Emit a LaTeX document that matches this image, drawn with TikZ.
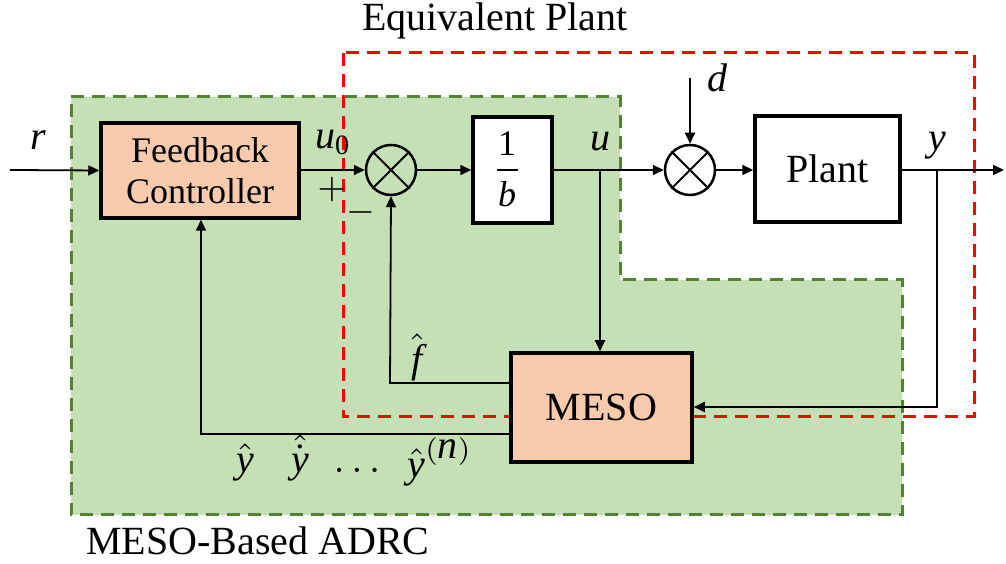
\documentclass[tikz,border=0pt]{standalone}
\usepackage{fontspec}
\setmainfont{Liberation Serif}
\usetikzlibrary{arrows.meta}
\definecolor{gfill}{HTML}{C5E0B4}
\definecolor{gline}{HTML}{548235}
\definecolor{ofill}{HTML}{F8CBAD}
\definecolor{rline}{HTML}{FF0000}
\newcommand\bigf{\rmfamily\fontsize{10}{11}\selectfont}
\newcommand\medf{\rmfamily\fontsize{9}{10.25}\selectfont}
\newcommand\itf{\rmfamily\fontsize{10}{11}\selectfont\itshape}
\begin{document}
\begin{tikzpicture}[x=0.25pt,y=-0.25pt,
  blk/.style={draw,line width=0.875pt,rectangle,inner sep=0pt,align=center},
  sumnode/.style={draw,line width=0.625pt,circle,minimum size=12.5pt,inner sep=0pt},
  conn/.style={line width=0.45pt,-{Triangle[length=2.75pt,width=2.5pt]}},
  lbl/.style={inner sep=0pt},
  dashedbox/.style={line width=0.75pt,dash pattern=on 3.25pt off 2pt}
]
\useasboundingbox (0,0) rectangle (1006,564);
% green region
\fill[gfill] (71,97) -- (620,97) -- (620,280) -- (902,280) -- (902,515) -- (71,515) -- cycle;
\draw[gline,dashedbox] (71,97) -- (620,97) -- (620,280) -- (902,280) -- (902,515) -- (71,515) -- cycle;
% red equivalent plant
\draw[rline,dashedbox] (343,53) rectangle (974,417);
% titles
\node[lbl] (eqt) at (495,21) {\bigf Equivalent Plant};
\node[lbl] (adrct) at (258,541) {\bigf MESO-Based ADRC};
% blocks
\node[blk,fill=ofill,minimum width=49.5pt,minimum height=23.75pt,font=\medf] (fc) at (200,170.5) {Feedback\\Controller};
\node[sumnode] (s1) at (391,170) {};
\draw[line width=0.45pt] (s1.north west) -- (s1.south east) (s1.north east) -- (s1.south west);
\node[blk,fill=white,minimum width=19.75pt,minimum height=26.5pt] (gb) at (512.5,170) {};
\node[lbl] (one) at (507,144) {\medf 1};
\node[lbl] (bden) at (507,194) {\medf\itshape b};
\coordinate (barl) at (497,170);
\coordinate (barr) at (518,170);
\draw[line width=0.5pt] (barl) -- (barr);
\node[sumnode] (s2) at (690,170) {};
\draw[line width=0.45pt] (s2.north west) -- (s2.south east) (s2.north east) -- (s2.south west);
\node[blk,fill=white,minimum width=36.25pt,minimum height=26.5pt] (plant) at (827.5,169) {\bigf Plant};
\node[blk,fill=ofill,minimum width=45.25pt,minimum height=27.25pt] (meso) at (601.5,407.5) {\bigf MESO};
% coordinates
\coordinate (rin) at (10,170);
\coordinate (dtop) at (690,78);
\coordinate (yout) at (1004,170);
\coordinate (ub) at (600,170);
\coordinate (yb) at (937,170);
\coordinate (yc) at (937,407);
\coordinate (fc1) at (390,383);
\coordinate (yh1) at (201,434);
% connectors
\draw[conn] (rin) -- (fc.west);
\draw[conn] (fc.east |- s1.west) -- (s1.west);
\draw[conn] (s1.east) -- (gb.west |- s1.east);
\draw[conn] (gb.east |- s2.west) -- (s2.west);
\draw[conn] (dtop) -- (s2.north);
\draw[conn] (s2.east) -- (plant.west |- s2.east);
\draw[conn] (plant.east |- yout) -- (yout);
\draw[conn] (ub) -- (ub |- meso.north);
\draw[conn] (yb) -- (yc) -- (meso.east |- yc);
\draw[conn] (meso.west |- fc1) -- (fc1) -- (s1.south);
\draw[conn] (meso.west |- yh1) -- (yh1) -- (fc.south -| yh1);
% labels
\node[lbl] (rl) at (38,140) {\itf r};
\node[lbl] (u0l) at (333,142) {\itf u\textsubscript{\upshape 0}};
\node[lbl] (plusl) at (332,190) {\medf $+$};
\node[lbl] (minusl) at (361,213) {\medf $-$};
\node[lbl] (ul) at (600,142) {\itf u};
\node[lbl] (dl) at (717,78) {\itf d};
\node[lbl] (yl) at (937,146) {\itf y};
\node[lbl] (fhl) at (417,357) {\itf $\hat{\textit{f}}$};
\node[lbl] (yh0) at (245,462) {\itf $\hat{\textit{y}}$};
\node[lbl] (yh1l) at (300,458) {\itf $\hat{\dot{\textit{y}}}$};
\node[lbl] (dotsl) at (357,470) {\itf $\dots$};
\node[lbl] (yhn) at (440,462) {\itf $\hat{\textit{y}}^{(\textit{n})}$};
\end{tikzpicture}
\end{document}
